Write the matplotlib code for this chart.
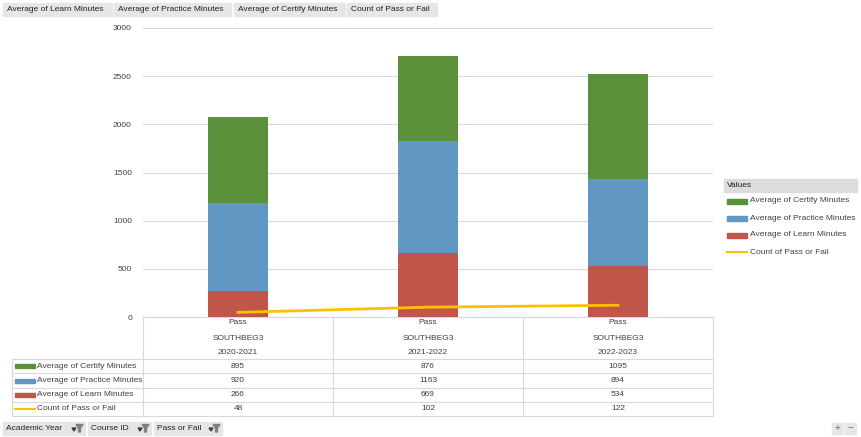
import matplotlib
matplotlib.use("Agg")
import matplotlib.pyplot as plt
from matplotlib.patches import Rectangle, Polygon

plt.rcParams['font.family'] = ['Liberation Sans', 'DejaVu Sans']

years = ["2020-2021", "2021-2022", "2022-2023"]
course = ["SOUTHBEG3", "SOUTHBEG3", "SOUTHBEG3"]
result = ["Pass", "Pass", "Pass"]
learn = [266, 669, 534]
practice = [920, 1163, 894]
certify = [895, 876, 1095]
count = [48, 102, 122]

c_learn = "#C0564A"
c_practice = "#6198C3"
c_certify = "#5C913B"
c_count = "#FFC000"
grid_c = "#D9D9D9"
txt_c = "#404040"
fs = 6.0

fig = plt.figure(figsize=(8.61, 4.37), dpi=100)
W, H = 861, 437

# overlay in pixel coords for table, buttons, legend
ov = fig.add_axes([0, 0, 1, 1])
ov.set_xlim(0, W)
ov.set_ylim(H, 0)
ov.axis("off")

ax = fig.add_axes([143 / W, 1 - 317 / H, 570 / W, 289 / H])
ax.patch.set_alpha(0)
x = range(len(years))
bw = 0.316
ax.bar(x, learn, bw, color=c_learn, zorder=3)
ax.bar(x, practice, bw, bottom=learn, color=c_practice, zorder=3)
bot3 = [a + b for a, b in zip(learn, practice)]
ax.bar(x, certify, bw, bottom=bot3, color=c_certify, zorder=3)
ax.plot(x, count, color=c_count, lw=2, zorder=4)
ax.set_xlim(-0.5, 2.5)
ax.set_ylim(0, 3000)
ax.set_yticks(range(0, 3001, 500))
ax.yaxis.grid(True, color=grid_c, lw=0.8)
ax.set_axisbelow(True)
for s in ax.spines.values():
    s.set_visible(False)
ax.tick_params(axis="y", length=0, labelsize=fs, labelcolor=txt_c, pad=8)
ax.set_xticks([])

# data table
lc = grid_c
cols = [143, 333, 523, 713]
rows = [359, 373, 388, 402, 416]
ov.plot([143, 713], [317, 317], color=lc, lw=0.8)
for cx in cols:
    ov.plot([cx, cx], [317, 416], color=lc, lw=0.8)
for ry in rows:
    ov.plot([12, 713], [ry, ry], color=lc, lw=0.8)
ov.plot([12, 12], [359, 416], color=lc, lw=0.8)

for i in range(3):
    cx = (cols[i] + cols[i + 1]) / 2
    ov.text(cx, 323, result[i], ha="center", va="center", fontsize=fs, color=txt_c)
    ov.text(cx, 338, course[i], ha="center", va="center", fontsize=fs, color=txt_c)
    ov.text(cx, 352, years[i], ha="center", va="center", fontsize=fs, color=txt_c)

table_rows = [("Average of Certify Minutes", certify, c_certify, "bar"),
              ("Average of Practice Minutes", practice, c_practice, "bar"),
              ("Average of Learn Minutes", learn, c_learn, "bar"),
              ("Count of Pass or Fail", count, c_count, "line")]
for r, (name, vals, col, kind) in enumerate(table_rows):
    cy = (rows[r] + rows[r + 1]) / 2
    if kind == "bar":
        ov.add_patch(Rectangle((15, cy - 2), 20, 4, color=col))
    else:
        ov.plot([15, 35], [cy, cy], color=col, lw=1.5)
    ov.text(37, cy, name, ha="left", va="center", fontsize=fs, color=txt_c)
    for i in range(3):
        cx = (cols[i] + cols[i + 1]) / 2
        ov.text(cx, cy, str(vals[i]), ha="center", va="center", fontsize=fs, color=txt_c)

# legend
ov.add_patch(Rectangle((724, 179), 133, 13, color="#DCDCDC"))
ov.text(727, 185.5, "Values", ha="left", va="center", fontsize=fs, color="#202020")
leg_y = [201, 218, 235, 252]
for (name, vals, col, kind), ly in zip(table_rows, leg_y):
    if kind == "bar":
        ov.add_patch(Rectangle((727, ly - 2.5), 20, 5, color=col))
    else:
        ov.plot([727, 747], [ly, ly], color=col, lw=1.5)
    ov.text(750, ly, name, ha="left", va="center", fontsize=fs, color=txt_c)

# field buttons on top
top_btns = [("Average of Learn Minutes", 3, 112), ("Average of Practice Minutes", 114, 231),
            ("Average of Certify Minutes", 234, 345), ("Count of Pass or Fail", 347, 437)]
for name, x0, x1 in top_btns:
    ov.add_patch(Rectangle((x0, 3), x1 - x0, 13, color="#E6E6E6"))
    ov.text(x0 + 4, 9.5, name, ha="left", va="center", fontsize=fs, color="#202020")

# field buttons at bottom
bot_btns = [("Academic Year", 3, 85), ("Course ID", 88, 151), ("Pass or Fail", 154, 222)]
for name, x0, x1 in bot_btns:
    ov.add_patch(Rectangle((x0, 422), x1 - x0, 13, color="#E6E6E6"))
    ov.text(x0 + 3, 428.5, name, ha="left", va="center", fontsize=fs, color="#202020")
    ov.add_patch(Polygon([(x1 - 13, 428), (x1 - 9, 428), (x1 - 11, 431)], color="#404040"))
    ov.add_patch(Polygon([(x1 - 9, 424.5), (x1 - 2, 424.5), (x1 - 4.5, 428), (x1 - 4.5, 432),
                          (x1 - 6.5, 432), (x1 - 6.5, 428)], color="#808080"))

# zoom buttons
for x0, sym in [(832, "+"), (845, "\u2212")]:
    ov.add_patch(Rectangle((x0, 423), 11, 11, color="#E6E6E6"))
    ov.text(x0 + 5.5, 428.5, sym, ha="center", va="center", fontsize=7, color="#707070")

fig.savefig("out.png", dpi=100)
